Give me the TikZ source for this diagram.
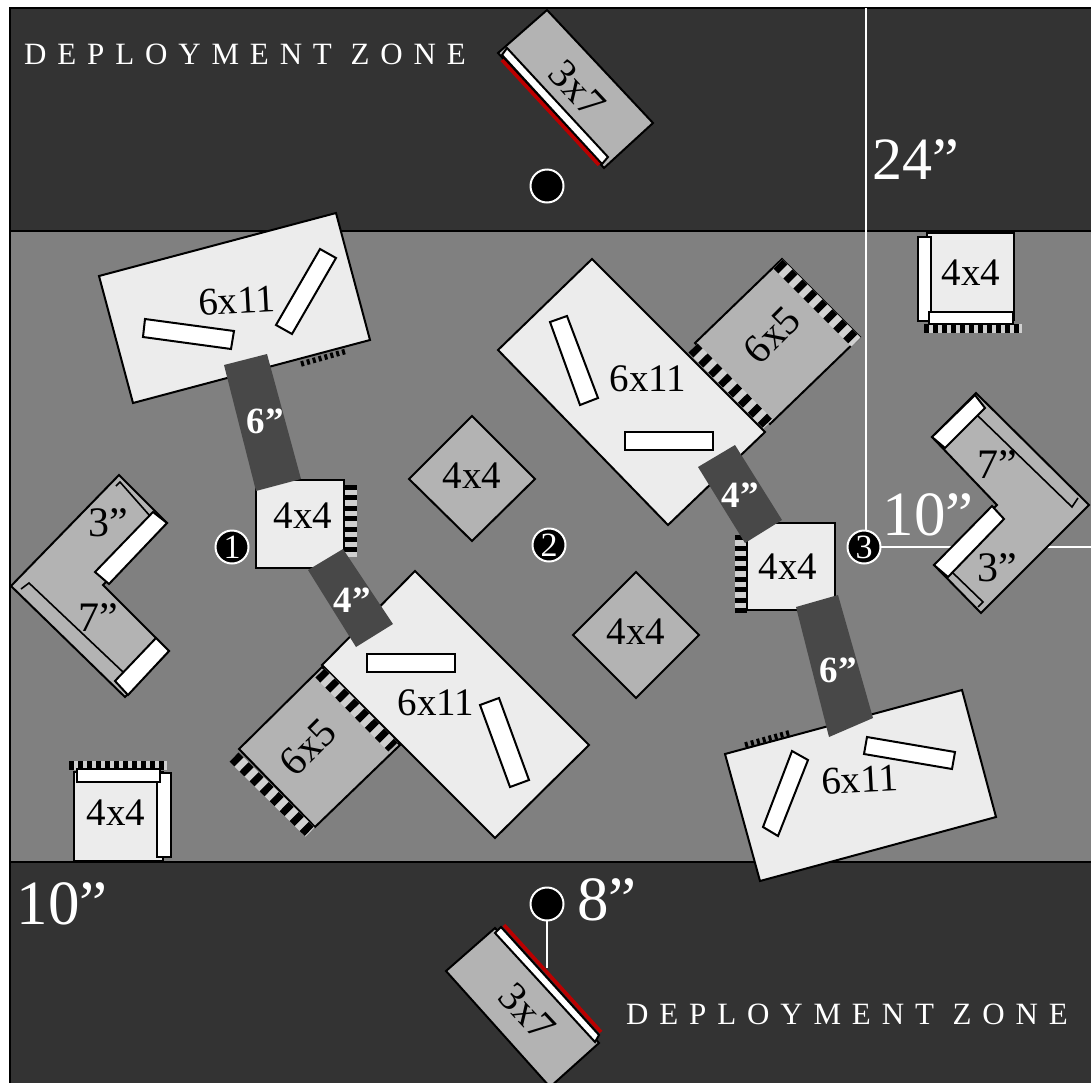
\documentclass[tikz,border=0pt]{standalone}
\usepackage{fontspec}
\setmainfont{Liberation Serif}
\newfontfamily\zonefont[LetterSpace=35]{Liberation Serif}
\definecolor{zonedark}{HTML}{333333}
\definecolor{tablegray}{HTML}{808080}
\definecolor{ruinlight}{HTML}{ECECEC}
\definecolor{ruinmid}{HTML}{B3B3B3}
\definecolor{gapdark}{HTML}{484848}
\definecolor{edgered}{HTML}{BB0000}
\definecolor{stripgray}{HTML}{D0D0D0}
\tikzset{
  ruin/.style={draw=black, line width=2pt, line join=miter, fill=ruinlight},
  ruinsmall/.style={ruin, fill=ruinmid},
  wall/.style={draw=black, line width=2pt, fill=white},
  gap/.style={fill=gapdark},
  stripbase/.style={draw=stripgray, line width=#1},
  stripdash/.style={draw=black, line width=#1, dash pattern=on 7pt off 7.1pt},
  stripfine/.style={draw=black, line width=#1, dash pattern=on 3pt off 3.1pt},
  sizetext/.style={font=\fontsize{39}{39}\selectfont, text=black},
  longtext/.style={font=\fontsize{41}{41}\selectfont, text=black},
  lentext/.style={font=\fontsize{42}{42}\selectfont, text=black, inner sep=0pt},
  gaptext/.style={font=\fontsize{37}{37}\selectfont\bfseries, text=white, inner sep=0pt},
  bigtext/.style={font=\fontsize{63}{63}\selectfont, text=white, inner sep=0pt},
  zonetext/.style={font=\fontsize{31}{31}\zonefont, text=white, inner sep=0pt},
  objective/.style={circle, fill=black, draw=white, line width=2pt, minimum size=33pt, inner sep=0pt,
    text=white, font=\fontsize{34}{34}\selectfont},
  whiteline/.style={draw=white, line width=2pt},
}
\begin{document}
\begin{tikzpicture}[x=1pt, y=-1pt]
  \useasboundingbox (0,0) rectangle (1091,1082);
  % table and deployment zones
  \fill[white] (0,0) rectangle (1091,1082);
  \fill[zonedark] (10,8) rectangle (1092,1084);
  \fill[tablegray] (10,231) rectangle (1092,862);
  \draw[line width=2pt] (10,1084) -- (10,8) -- (1092,8);
  \draw[line width=2pt] (10,231) -- (1092,231);
  \draw[line width=2pt] (10,862) -- (1092,862);
  \draw[whiteline] (866,8) -- (866,530);
  \draw[whiteline] (880,547) -- (1092,547);
  \draw[whiteline] (547,921) -- (547,968);
  % top 3x7
  \draw[ruinsmall] (547,10) -- (653,123) -- (604,168) -- (498,53) -- cycle;
  \draw[wall] (507,48) -- (608,157) -- (602,164) -- (502,55) -- cycle;
  \draw[edgered, line width=3.6pt] (502,60) -- (599,165);
  \node[longtext, rotate=-47] (topruin) at (577,89) {3x7};
  % bottom 3x7
  \draw[ruinsmall] (495,928) -- (599,1043) -- (550,1087) -- (446,971) -- cycle;
  \draw[edgered, line width=3.6pt] (504,925) -- (601,1032);
  \draw[wall] (501,927) -- (599,1035) -- (595,1042) -- (495,933) -- cycle;
  \node[longtext, rotate=-47] (botruin) at (527,1012) {3x7};
  % upper left 6x11
  \draw[stripfine=5.5pt] (301,364) -- (347,351);
  \draw[ruin] (99,276) -- (336,213) -- (370,340) -- (133,403) -- cycle;
  \draw[wall] (145,319) -- (234,331) -- (231,349) -- (143,337) -- cycle;
  \draw[wall] (320,249) -- (336,258) -- (292,334) -- (276,325) -- cycle;
  \node[sizetext, rotate=3] (ruinA) at (237,301) {6x11};
  % lower right 6x11
  \draw[stripfine=5.5pt] (745,745) -- (792,732);
  \draw[ruin] (725,754) -- (962,690) -- (996,817) -- (760,881) -- cycle;
  \draw[wall] (867,737) -- (955,752) -- (952,769) -- (864,754) -- cycle;
  \draw[wall] (792,751) -- (808,760) -- (778,836) -- (763,827) -- cycle;
  \node[sizetext, rotate=3] (ruinB) at (860,780) {6x11};
  % upper middle 6x11 and its 6x5
  \draw[ruinsmall] (695,343) -- (782,259) -- (860,337) -- (770,424) -- cycle;
  \draw[stripbase=13pt] (778,264) -- (856,342);
  \draw[stripdash=13pt] (778,264) -- (856,342);
  \draw[ruin] (592,259) -- (765,432) -- (668,525) -- (498,350) -- cycle;
  \draw[stripbase=13pt] (693,348) -- (768,424);
  \draw[stripdash=13pt] (693,348) -- (768,424);
  \draw[wall] (550,322) -- (567,316) -- (598,398) -- (580,405) -- cycle;
  \draw[wall] (625,432) rectangle (713,450);
  \node[sizetext] (ruinC) at (648,379) {6x11};
  \node[longtext, rotate=45] (annexC) at (772,335) {6x5};
  % lower middle 6x11 and its 6x5
  \draw[ruinsmall] (239,749) -- (322,667) -- (400,745) -- (315,827) -- cycle;
  \draw[stripbase=13pt] (234,757) -- (310,832);
  \draw[stripdash=13pt] (234,757) -- (310,832);
  \draw[ruin] (415,571) -- (589,745) -- (495,838) -- (322,665) -- cycle;
  \draw[stripbase=13pt] (320,673) -- (393,747);
  \draw[stripdash=13pt] (320,673) -- (393,747);
  \draw[wall] (367,654) rectangle (455,672);
  \draw[wall] (480,705) -- (499,698) -- (529,780) -- (510,787) -- cycle;
  \node[sizetext] (ruinD) at (436,703) {6x11};
  \node[longtext, rotate=45] (annexD) at (308,747) {6x5};
  % 4x4 by objective 1
  \draw[stripbase=12pt] (351,485) -- (351,557);
  \draw[stripfine=12pt, dash pattern=on 5pt off 5.4pt] (351,485) -- (351,557);
  \draw[ruin] (256,480) rectangle (344,568);
  \node[sizetext] (coverA) at (303,516) {4x4};
  % 4x4 by objective 3
  \draw[stripbase=12pt] (740.5,535) -- (740.5,613);
  \draw[stripfine=12pt, dash pattern=on 5pt off 5.4pt] (740.5,613) -- (740.5,535);
  \draw[ruin] (747,523) rectangle (835,610);
  \node[sizetext] (coverB) at (788,567) {4x4};
  % upper right 4x4
  \draw[stripbase=9pt] (924,328.5) -- (1022,328.5);
  \draw[stripfine=9pt, dash pattern=on 5pt off 4pt] (924,328.5) -- (1022,328.5);
  \draw[ruin] (927,233) rectangle (1014,320);
  \draw[wall] (918,237) rectangle (931,321);
  \draw[wall] (929,312) rectangle (1013,324);
  \node[sizetext] (coverC) at (971,273) {4x4};
  % lower left 4x4
  \draw[stripbase=9pt] (69,765) -- (167,765);
  \draw[stripfine=9pt, dash pattern=on 5pt off 4pt] (69,765) -- (167,765);
  \draw[ruin] (74,772) rectangle (163,861);
  \draw[wall] (157,773) rectangle (171,857);
  \draw[wall] (77,769) rectangle (160,782);
  \node[sizetext] (coverD) at (116,813) {4x4};
  % two open 4x4
  \draw[ruinsmall] (472,416) -- (535,479) -- (472,541) -- (409,479) -- cycle;
  \node[sizetext] (hillA) at (472,476) {4x4};
  \draw[ruinsmall] (636,572) -- (699,635) -- (636,698) -- (573,635) -- cycle;
  \node[sizetext] (hillB) at (636,632) {4x4};
  % left corner piece
  \draw[ruinsmall] (119,475) -- (167,523) -- (103,585) -- (169,651) -- (125,697) -- (11,586) -- cycle;
  \draw[line width=1.6pt] (116,486) -- (120,482) -- (150,516);
  \draw[line width=1.6pt] (21,589) -- (29,583) -- (123,672);
  \draw[wall] (153,512) -- (167,523) -- (109,584) -- (95,572) -- cycle;
  \draw[wall] (156,638) -- (169,651) -- (128,695) -- (115,681) -- cycle;
  \node[lentext] (lenA) at (108,523) {3”};
  \node[lentext] (lenB) at (98,618) {7”};
  % right corner piece
  \draw[ruinsmall] (976,393) -- (1089,505) -- (981,613) -- (934,565) -- (997,505) -- (932,437) -- cycle;
  \draw[line width=1.6pt] (977,415) -- (1072,507) -- (1078,498);
  \draw[line width=1.6pt] (953,573) -- (983,602) -- (978,607);
  \draw[wall] (975,395) -- (985,408) -- (945,448) -- (932,437) -- cycle;
  \draw[wall] (992,506) -- (1004,519) -- (948,577) -- (934,565) -- cycle;
  \node[lentext] (lenC) at (997,465) {7”};
  \node[lentext] (lenD) at (997,568) {3”};
  % gaps
  \fill[gap] (224,365) -- (267,354) -- (301,479) -- (256,491) -- cycle;
  \node[gaptext] (gapA) at (265,421) {6”};
  \fill[gap] (308,570) -- (343,549) -- (393,624) -- (356,647) -- cycle;
  \node[gaptext] (gapB) at (352,600) {4”};
  \fill[gap] (698,467) -- (735,445) -- (782,520) -- (745,543) -- cycle;
  \node[gaptext] (gapC) at (740,495) {4”};
  \fill[gap] (796,607) -- (838,595) -- (873,718) -- (829,737) -- cycle;
  \node[gaptext] (gapD) at (838,670) {6”};
  % objectives
  \node[objective] (objA) at (232,547) {1};
  \node[objective] (objB) at (549,545) {2};
  \node[objective] (objC) at (864,547) {3};
  \node[objective] (objTop) at (547,186) {};
  \node[objective] (objBot) at (547,904) {};
  % measures
  \node[bigtext, font=\fontsize{60}{60}\selectfont] (dimA) at (916,160) {24”};
  \node[bigtext] (dimB) at (928,515) {10”};
  \node[bigtext] (dimC) at (62,904) {10”};
  \node[bigtext] (dimD) at (607,900) {8”};
  \node[zonetext] (zoneTop) at (245,54) {DEPLOYMENT ZONE};
  \node[zonetext] (zoneBot) at (847,1014) {DEPLOYMENT ZONE};
\end{tikzpicture}
\end{document}
